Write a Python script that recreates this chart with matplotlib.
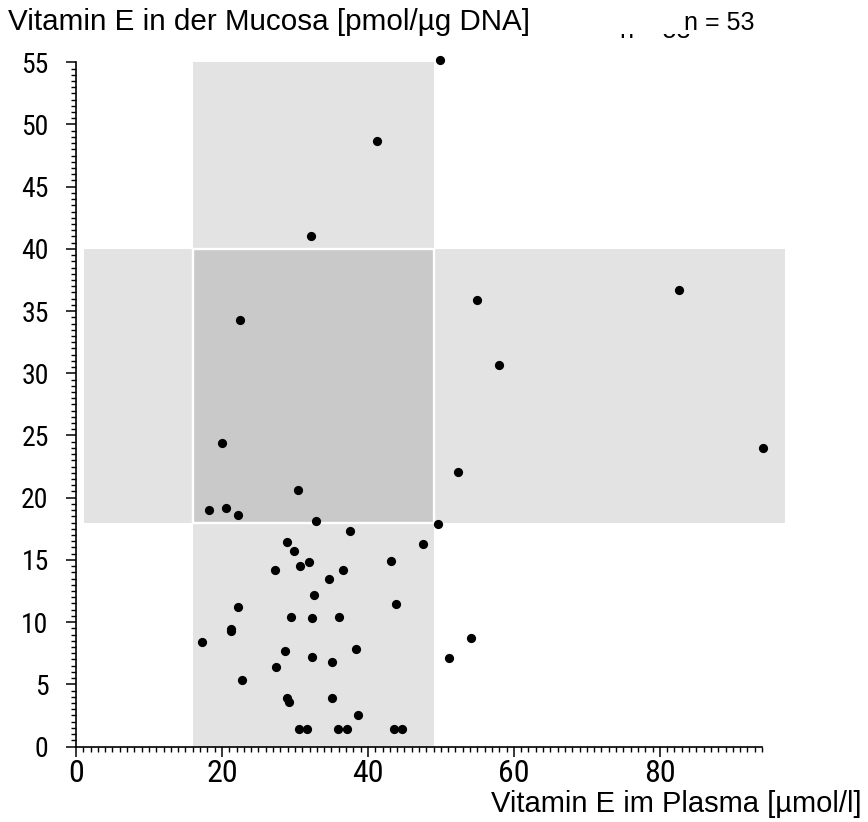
import matplotlib
matplotlib.use("Agg")
import matplotlib.pyplot as plt
from matplotlib import font_manager as fm
from matplotlib.patches import Rectangle
from matplotlib.transforms import Bbox, TransformedBbox
from matplotlib.ticker import MultipleLocator

# ---------------- data ----------------
plasma = [49.9, 41.2, 32.2, 22.5, 54.9, 82.6, 57.9, 20.0, 94.1, 52.4,
          30.4, 18.2, 20.5, 22.2, 32.9, 49.6, 37.6, 47.6, 28.9, 29.9,
          43.1, 31.9, 30.7, 27.2, 36.6, 34.7, 32.6, 22.2, 43.9, 29.4,
          32.4, 36.1, 21.2, 21.2, 17.2, 54.1, 28.7, 38.4, 32.4, 35.1,
          51.1, 27.4, 22.7, 28.9, 29.2, 35.1, 38.6, 30.6, 31.7, 35.9,
          37.2, 43.6, 44.7]
mucosa = [55.2, 48.7, 41.0, 34.3, 35.9, 36.7, 30.7, 24.4, 24.0, 22.1,
          20.6, 19.0, 19.2, 18.6, 18.15, 17.9, 17.3, 16.25, 16.4, 15.7,
          14.9, 14.8, 14.5, 14.2, 14.2, 13.5, 12.2, 11.2, 11.45, 10.4,
          10.3, 10.4, 9.45, 9.25, 8.4, 8.7, 7.7, 7.8, 7.2, 6.8,
          7.1, 6.4, 5.35, 3.9, 3.6, 3.9, 2.55, 1.4, 1.4, 1.4,
          1.4, 1.4, 1.4]
plasma_range = [16.0, 49.1]      # reference range plasma
mucosa_range = [18.0, 40.0]      # reference range mucosa
x_ticks = [0, 20, 40, 60, 80]
y_ticks = [0, 5, 10, 15, 20, 25, 30, 35, 40, 45, 50, 55]
title_y = "Vitamin E in der Mucosa [pmol/µg DNA]"
title_x = "Vitamin E im Plasma [µmol/l]"
n_label = "n = 53"

# ---------------- fonts ----------------
def has_font(name):
    try:
        fm.findfont(fm.FontProperties(family=name), fallback_to_default=False)
        return True
    except Exception:
        return False

regular = "Liberation Sans" if has_font("Liberation Sans") else "DejaVu Sans"
narrow = regular
for cand in ["Liberation Sans Narrow", "DejaVu Sans Condensed", "Roboto Condensed"]:
    if has_font(cand):
        narrow = cand
        break

W, H = 868, 822
fig = plt.figure(figsize=(W / 100, H / 100), dpi=100)
ax = fig.add_axes([76 / W, 1 - 746.5 / H, (762 - 76) / W, (746.5 - 62.3) / H])
ax.set_xlim(0, 94)
ax.set_ylim(0, 55)

light = "#e3e3e3"
dark = "#c9c9c9"
# vertical band (plasma reference range)
ax.add_patch(Rectangle((plasma_range[0], 0), plasma_range[1] - plasma_range[0], 55,
                       facecolor=light, edgecolor="none", zorder=1, clip_on=False))
# horizontal band (mucosa reference range)
ax.add_patch(Rectangle((1.1, mucosa_range[0]), 97.1 - 1.1, mucosa_range[1] - mucosa_range[0],
                       facecolor=light, edgecolor="none", zorder=1, clip_on=False))
# overlap
ax.add_patch(Rectangle((plasma_range[0], mucosa_range[0]), plasma_range[1] - plasma_range[0],
                       mucosa_range[1] - mucosa_range[0],
                       facecolor=dark, edgecolor="white", linewidth=1.7, zorder=2, clip_on=False))

ax.scatter(plasma, mucosa, s=44, color="black", zorder=5, clip_on=False, linewidths=0)

for side in ["top", "right"]:
    ax.spines[side].set_visible(False)
for side in ["left", "bottom"]:
    ax.spines[side].set_linewidth(1.2)
    ax.spines[side].set_zorder(6)

ax.set_xticks(x_ticks)
ax.set_yticks(y_ticks)
ax.xaxis.set_minor_locator(MultipleLocator(1))
ax.yaxis.set_minor_locator(MultipleLocator(0.5))
ax.tick_params(axis="both", which="major", direction="out", length=7.2, width=1.1, color="black")
ax.tick_params(axis="both", which="minor", direction="out", length=3.8, width=1.0, color="black")
ax.tick_params(axis="y", which="major", pad=12.5, labelsize=20)
ax.tick_params(axis="x", which="major", pad=2, labelsize=23)
for lab in ax.get_xticklabels() + ax.get_yticklabels():
    lab.set_fontfamily(narrow)

fig.text(8 / W, 1 - 30 / H, title_y, ha="left", va="baseline", fontsize=21.3, family=regular)
fig.text(862 / W, 1 - 812 / H, title_x, ha="right", va="baseline", fontsize=21, family=regular)

# faint duplicate label, only its bottom edge visible
ghost = fig.text(690 / W, 1 - 38.5 / H, n_label, ha="right", va="baseline", fontsize=18,
                 family=regular, clip_on=True)
ghost.set_clip_box(TransformedBbox(Bbox([[600 / W, 0], [691 / W, 1 - 34.5 / H]]), fig.transFigure))

fig.text(755 / W, 1 - 30 / H, n_label, ha="right", va="baseline", fontsize=18, family=regular)

fig.savefig("out.png", dpi=100)
